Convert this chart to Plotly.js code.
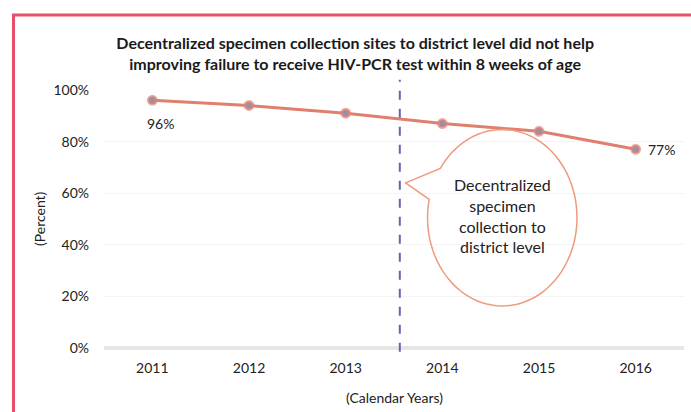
<!DOCTYPE html>
<html>
<head>
<meta charset="utf-8">
<script src="https://cdn.plot.ly/plotly-3.0.1.min.js"></script>
<style>html,body{margin:0;padding:0;background:#fff;}#chart{width:691px;height:412px;}</style>
</head>
<body>
<div id="chart"></div>
<script>
var years = ['2011', '2012', '2013', '2014', '2015', '2016'];
var failurePct = [96, 94, 91, 87, 84, 77];
var labelShown = [true, false, false, false, false, true];
var yTickVals = [0, 20, 40, 60, 80, 100];
var yTickText = ['0%', '20%', '40%', '60%', '80%', '100%'];
var calloutText = 'Decentralized<br>specimen<br>collection to<br>district level';
var titleText = 'Decentralized specimen collection sites to district level did not help<br>improving failure to receive HIV-PCR test within 8 weeks of age';

var FONT = 'Lato, "Open Sans", sans-serif';

var trace = {
  x: years,
  y: failurePct,
  type: 'scatter',
  mode: 'lines+markers',
  line: {color: '#e07f6e', width: 3},
  marker: {color: '#9a8fa8', size: 8, line: {color: 'rgba(232,130,115,0.65)', width: 3}},
  cliponaxis: false,
  hoverinfo: 'none'
};

var labelAnns = [];
for (var i = 0; i < failurePct.length; i++) {
  if (!labelShown[i]) continue;
  var first = (i === 0);
  labelAnns.push({
    x: i, y: failurePct[i], xref: 'x', yref: 'y', text: failurePct[i] + '%', showarrow: false,
    xanchor: first ? 'center' : 'left', yanchor: 'middle',
    xshift: first ? 8 : 10, yshift: first ? -23 : 0,
    font: {family: FONT, size: 14, color: '#222'}
  });
}

// callout ellipse with a wedge pointing to the dashed line (decorative)
var cx = 3.62, cy = 50.5, rx = 0.773, ry = 34.2;
var a0 = 146 * Math.PI / 180, a1 = 168 * Math.PI / 180;
var pts = [];
var steps = 90;
for (var k = 0; k <= steps; k++) {
  var t = a1 + (2 * Math.PI - (a1 - a0)) * k / steps;
  pts.push([cx + rx * Math.cos(t), cy + ry * Math.sin(t)]);
}
var path = 'M ' + pts.map(function (p) { return p[0].toFixed(4) + ',' + p[1].toFixed(3); }).join(' L ');
path += ' L 2.62,64 Z';

var layout = {
  width: 691, height: 412,
  margin: {l: 104, r: 7, t: 90, b: 64},
  paper_bgcolor: '#fff', plot_bgcolor: '#fff',
  showlegend: false,
  font: {family: FONT, size: 14, color: '#222'},
  title: {
    text: titleText,
    font: {family: FONT, size: 16, color: '#1a1a1a', weight: 'bold'},
    x: 0.514, xref: 'container', xanchor: 'center',
    y: 1 - 49 / 412, yref: 'container', yanchor: 'middle'
  },
  xaxis: {
    type: 'category',
    range: [-0.5, 5.5],
    showgrid: false, zeroline: false, showline: false,
    ticks: '',
    tickfont: {family: FONT, size: 14, color: '#222'},
    ticklabelstandoff: 10
  },
  yaxis: {
    range: [0, 100],
    tickvals: yTickVals, ticktext: yTickText,
    showgrid: true, gridcolor: '#f6f3f3', gridwidth: 1,
    zeroline: true, zerolinecolor: '#e6e6e6', zerolinewidth: 4,
    showline: false, ticks: '',
    tickfont: {family: FONT, size: 14, color: '#222'},
    ticklabelstandoff: 14
  },
  annotations: labelAnns.concat([
    {text: '(Percent)', textangle: -90, xref: 'paper', yref: 'paper', x: -0.112, y: 0.5,
     xanchor: 'center', yanchor: 'middle', showarrow: false, font: {family: FONT, size: 14, color: '#222'}},
    {text: '(Calendar Years)', xref: 'paper', yref: 'paper', x: (395 - 104) / 580, y: -0.19,
     xanchor: 'center', yanchor: 'middle', showarrow: false, font: {family: FONT, size: 14, color: '#222'}},
    {text: calloutText, xref: 'x', yref: 'y', x: cx, y: cy + 1, showarrow: false,
     align: 'center', font: {family: FONT, size: 16, color: '#222'}}
  ]),
  shapes: [
    {type: 'rect', xref: 'paper', yref: 'paper', x0: -0.156, x1: 1.2, y0: -0.6, y1: 1.291,
     line: {color: '#e4506a', width: 3}, layer: 'below'},
    {type: 'line', xref: 'x', yref: 'paper', x0: 2.56, x1: 2.56, y0: -0.015, y1: 1.04,
     line: {color: '#6b5fb8', width: 2, dash: 'dash'}},
    {type: 'path', xref: 'x', yref: 'y', path: path,
     line: {color: '#ee9a7c', width: 1.5}, fillcolor: 'rgba(0,0,0,0)'}
  ]
};

Plotly.newPlot('chart', [trace], layout, {displayModeBar: false, staticPlot: true});
</script>
</body>
</html>
